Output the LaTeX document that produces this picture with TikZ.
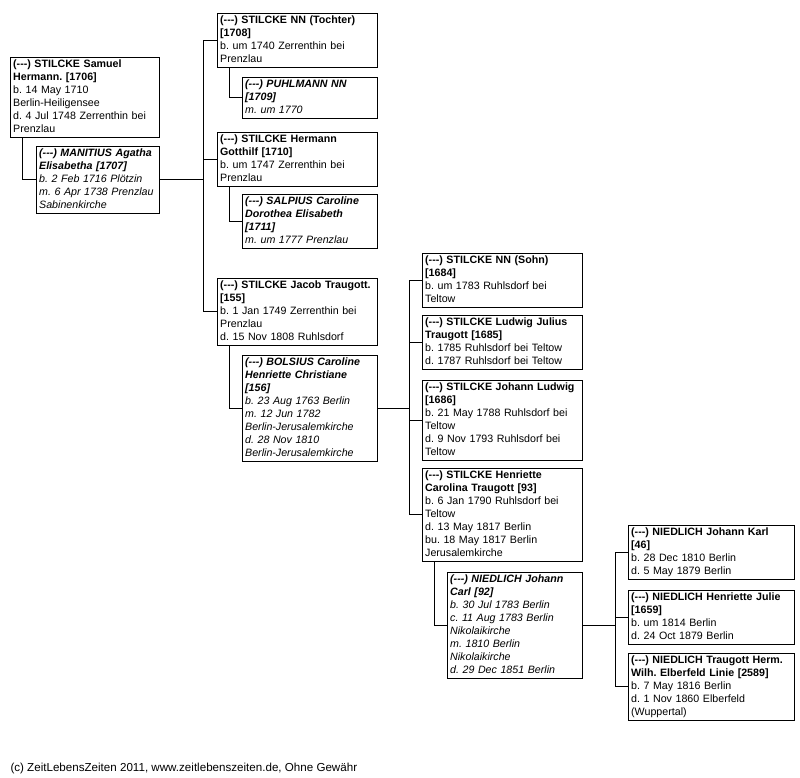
\documentclass[tikz,border=0pt]{standalone}
\usepackage{fontspec}
\setmainfont{Liberation Sans}
\usepackage{tikz}

\newcommand{\unkn}{(-{}-{}-)}
\lefthyphenmin=64

\begin{document}
\begin{tikzpicture}[x=0.75pt, y=-0.75pt, line width=0.75pt,
    person/.style={draw, anchor=north west, align=left, inner xsep=2pt, inner ysep=0.6pt,
      font=\fontsize{8}{9.75}\selectfont\frenchspacing,
      execute at begin node=\strut, execute at end node=\strut},
    spouse/.style={person, font=\fontsize{8}{9.75}\selectfont\frenchspacing\itshape},
    wide/.style={text width=116pt},
    narrow/.style={text width=97.25pt}]
    \useasboundingbox (0,0) rectangle (800,778);
    % Generation 1
    \node[person, text width=107.75pt] (samuel) at (10,57)
        {{\bfseries \unkn{} STILCKE Samuel\\ Hermann. [1706]}\\ b. 14 May 1710\\ Berlin-Heiligensee\\ d. 4 Jul 1748 Zerrenthin bei\\ Prenzlau};
    \node[spouse, text width=88.25pt] (manitius) at (36,146)
        {{\bfseries \unkn{} MANITIUS Agatha\\ Elisabetha [1707]}\\ b. 2 Feb 1716 Plötzin\\ m. 6 Apr 1738 Prenzlau\\ Sabinenkirche};
    % Generation 2
    \node[person, wide] (tochter) at (217,13)
        {{\bfseries \unkn{} STILCKE NN (Tochter)\\ {[1708]}}\\ b. um 1740 Zerrenthin bei\\ Prenzlau};
    \node[spouse, narrow] (puhlmann) at (242,77)
        {{\bfseries \unkn{} PUHLMANN NN\\ {[1709]}}\\ m. um 1770};
    \node[person, wide] (hermann) at (217,132)
        {{\bfseries \unkn{} STILCKE Hermann\\ Gotthilf [1710]}\\ b. um 1747 Zerrenthin bei\\ Prenzlau};
    \node[spouse, narrow] (salpius) at (242,194)
        {{\bfseries \unkn{} SALPIUS Caroline\\ Dorothea Elisabeth\\ {[1711]}}\\ m. um 1777 Prenzlau};
    \node[person, wide] (jacob) at (217,278)
        {{\bfseries \unkn{} STILCKE Jacob Traugott.\\ {[155]}}\\ b. 1 Jan 1749 Zerrenthin bei\\ Prenzlau\\ d. 15 Nov 1808 Ruhlsdorf};
    \node[spouse, narrow] (bolsius) at (242,355)
        {{\bfseries \unkn{} BOLSIUS Caroline\\ Henriette Christiane\\ {[156]}}\\ b. 23 Aug 1763 Berlin\\ m. 12 Jun 1782\\ Berlin-Jerusalemkirche\\ d. 28 Nov 1810\\ Berlin-Jerusalemkirche};
    % Generation 3
    \node[person, wide] (sohn) at (422,253)
        {{\bfseries \unkn{} STILCKE NN (Sohn)\\ {[1684]}}\\ b. um 1783 Ruhlsdorf bei\\ Teltow};
    \node[person, wide] (ludwig) at (422,315)
        {{\bfseries \unkn{} STILCKE Ludwig Julius\\ Traugott [1685]}\\ b. 1785 Ruhlsdorf bei Teltow\\ d. 1787 Ruhlsdorf bei Teltow};
    \node[person, wide] (johann) at (422,380)
        {{\bfseries \unkn{} STILCKE Johann Ludwig\\ {[1686]}}\\ b. 21 May 1788 Ruhlsdorf bei\\ Teltow\\ d. 9 Nov 1793 Ruhlsdorf bei\\ Teltow};
    \node[person, wide] (henriette) at (422,468)
        {{\bfseries \unkn{} STILCKE Henriette\\ Carolina Traugott [93]}\\ b. 6 Jan 1790 Ruhlsdorf bei\\ Teltow\\ d. 13 May 1817 Berlin\\ bu. 18 May 1817 Berlin\\ Jerusalemkirche};
    \node[spouse, narrow] (niedlich) at (447,572)
        {{\bfseries \unkn{} NIEDLICH Johann\\ Carl [92]}\\ b. 30 Jul 1783 Berlin\\ c. 11 Aug 1783 Berlin\\ Nikolaikirche\\ m. 1810 Berlin\\ Nikolaikirche\\ d. 29 Dec 1851 Berlin};
    % Generation 4
    \node[person, text width=120.5pt] (karl) at (628,525)
        {{\bfseries \unkn{} NIEDLICH Johann Karl\\ {[46]}}\\ b. 28 Dec 1810 Berlin\\ d. 5 May 1879 Berlin};
    \node[person, text width=120.5pt] (julie) at (628,590)
        {{\bfseries \unkn{} NIEDLICH Henriette Julie\\ {[1659]}}\\ b. um 1814 Berlin\\ d. 24 Oct 1879 Berlin};
    \node[person, text width=120.5pt] (traugott) at (628,653)
        {{\bfseries \unkn{} NIEDLICH Traugott Herm.\\ Wilh. Elberfeld Linie [2589]}\\ b. 7 May 1816 Berlin\\ d. 1 Nov 1860 Elberfeld\\ (Wuppertal)};
    % Marriages
    \draw ([xshift=9pt]samuel.south west) |- (manitius.west);
    \draw ([xshift=9pt]tochter.south west) |- (puhlmann.west);
    \draw ([xshift=9pt]hermann.south west) |- (salpius.west);
    \draw ([xshift=9pt]jacob.south west) |- (bolsius.west);
    \draw ([xshift=9pt]henriette.south west) |- (niedlich.west);
    % Children
    \coordinate (fam1) at (203,0);
    \coordinate (fam2) at (409,0);
    \coordinate (fam3) at (615,0);
    \draw (manitius.east) -- (fam1 |- manitius.east);
    \draw (fam1 |- tochter.west) -- (fam1 |- jacob.west);
    \foreach \kid in {tochter,hermann,jacob}
        \draw (fam1 |- \kid.west) -- (\kid.west);
    \draw (bolsius.east) -- (fam2 |- bolsius.east);
    \draw (fam2 |- sohn.west) -- (fam2 |- henriette.west);
    \foreach \kid in {sohn,ludwig,johann,henriette}
        \draw (fam2 |- \kid.west) -- (\kid.west);
    \draw (niedlich.east) -- (fam3 |- niedlich.east);
    \draw (fam3 |- karl.west) -- (fam3 |- traugott.west);
    \foreach \kid in {karl,julie,traugott}
        \draw (fam3 |- \kid.west) -- (\kid.west);
    % Footer
    \node[anchor=west, inner sep=0pt, font=\fontsize{8.7}{10}\selectfont] (footer) at (10,768)
        {(c) ZeitLebensZeiten 2011, www.zeitlebenszeiten.de, Ohne Gewähr};
\end{tikzpicture}
\end{document}
